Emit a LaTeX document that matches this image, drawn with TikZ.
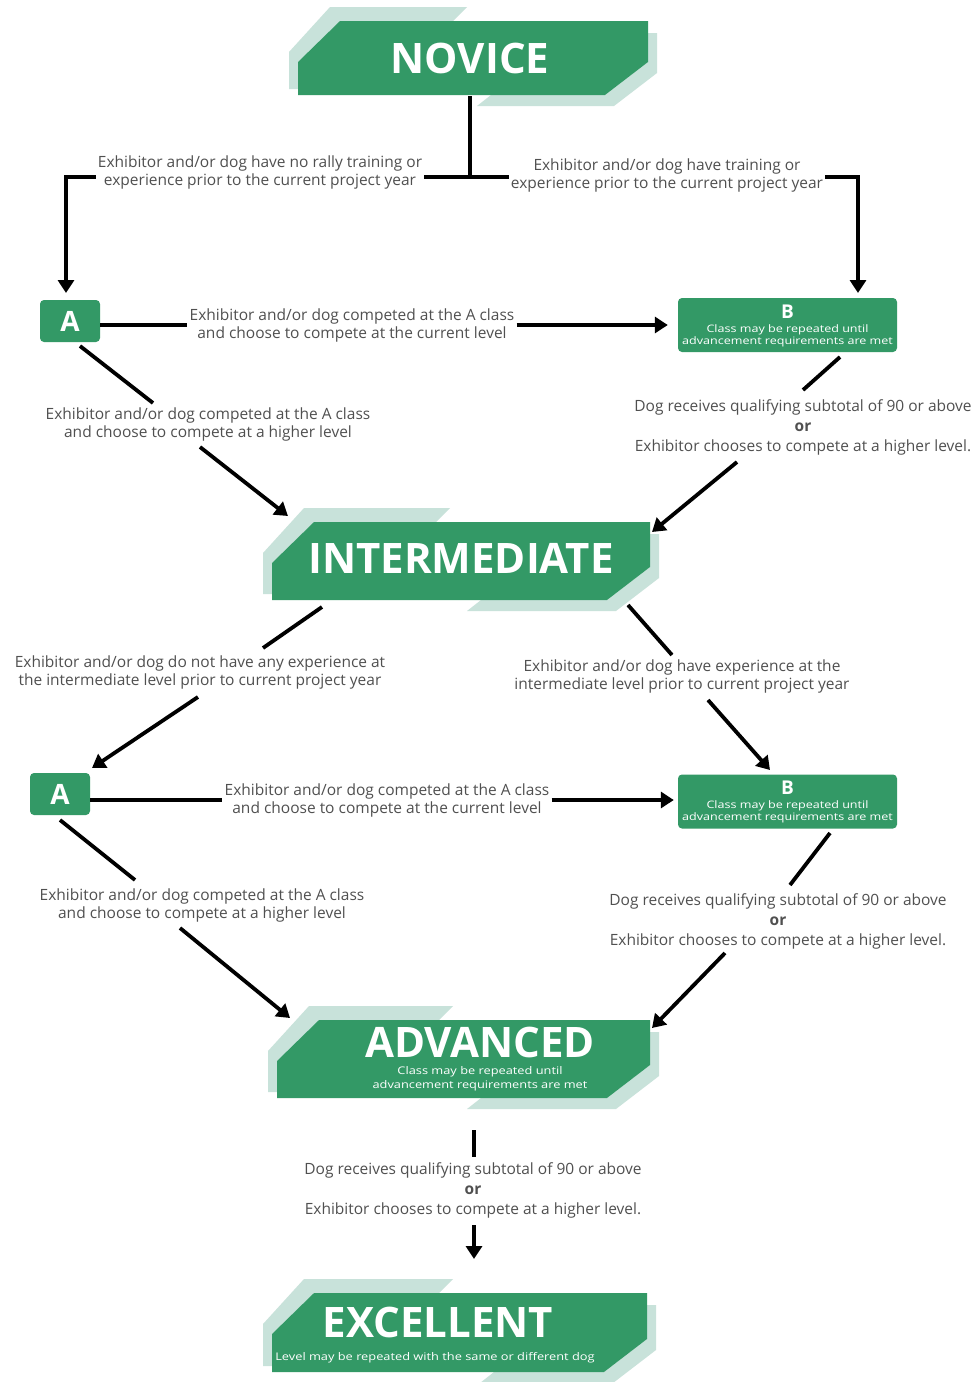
\documentclass[tikz,border=0pt]{standalone}
\usepackage{fontspec}
\setmainfont{Open Sans}
\newfontfamily\widefont[FakeStretch=1.22]{Open Sans}
\usetikzlibrary{arrows.meta}
\definecolor{lvgreen}{RGB}{51,153,102}
\definecolor{lvshade}{RGB}{200,226,218}
\definecolor{lblc}{RGB}{80,80,80}
\newcommand\lvbanner[6]{%
  \fill[lvshade] (#1+32,#3-14) -- (#5,#3-14) -- (#5-14,#3) -- (#1+42,#3) -- (#1,#3+41) -- (#1,#4-6) -- (#1-9,#4-6) -- (#1-9,#3+31) -- cycle;
  \fill[lvshade] (#6,#4+11) -- (#2+9-43,#4+11) -- (#2+9,#4+11-33) -- (#2+9,#3+12) -- (#2,#3+12) -- (#2,#4-33) -- (#2-43,#4) -- (#6+14,#4) -- cycle;
  \fill[lvgreen] (#1+42,#3) -- (#2,#3) -- (#2,#4-33) -- (#2-43,#4) -- (#1,#4) -- (#1,#3+41) -- cycle;}
\begin{document}
\begin{tikzpicture}[x=1pt,y=-1pt,
  conn/.style={line width=3.8pt, black},
  arr/.style={conn, -{Triangle[length=13pt,width=16pt]}},
  lbl/.style={text=lblc, font=\fontsize{15.5}{18}\selectfont, align=center, inner sep=2pt},
  lblor/.style={text=lblc, font=\fontsize{15.5}{20}\selectfont, align=center, inner sep=2pt},
  title/.style={text=white, font=\fontsize{42}{44}\selectfont\bfseries, inner sep=0pt},
  subt/.style={text=white, font=\widefont\fontsize{10.5}{14}\selectfont, align=center, inner sep=0pt},
  boxA/.style={fill=lvgreen, rounded corners=4pt, minimum width=60pt, minimum height=42pt, text=white, font=\fontsize{28}{30}\selectfont\bfseries, inner sep=0pt},
  boxB/.style={fill=lvgreen, rounded corners=4pt, minimum width=219pt, minimum height=54pt, inner sep=0pt},
  btitle/.style={text=white, font=\fontsize{19}{19}\selectfont\bfseries, inner sep=0pt},
  bsub/.style={text=white, font=\widefont\fontsize{10.3}{12}\selectfont, align=center, inner sep=0pt}]
\fill[white] (0,0) rectangle (980,1382);
\useasboundingbox (0,0) rectangle (980,1382);

% ---------- banners ----------
\lvbanner{298}{648}{21}{95}{467}{477}
\node[title] (N) at (470,58) {NOVICE};

\lvbanner{272}{650}{522}{600}{450}{467}
\node[title] (I) at (461,558) {INTERMEDIATE};

\lvbanner{277}{650}{1020}{1098}{453}{467}
\node[title] (Ad) at (480,1042) {ADVANCED};
\node[subt] (AdS) at (480,1079) {Class may be repeated until\\advancement requirements are met};

\lvbanner{272}{647}{1293}{1372}{453}{480}
\node[title] (E) at (438,1322) {EXCELLENT};
\node[subt] (ES) at (435,1358) {Level may be repeated with the same or different dog};

% ---------- class boxes ----------
\node[boxA] (A1) at (70,321) {A};
\node[boxB] (B1) at (787.5,325) {};
\node[btitle] at ([yshift=-14pt]B1.north) {B};
\node[bsub] at ([yshift=-11pt]B1.center) {Class may be repeated until\\advancement requirements are met};

\node[boxA] (A2) at (60,794) {A};
\node[boxB] (B2) at (787.5,801.5) {};
\node[btitle] at ([yshift=-13pt]B2.north) {B};
\node[bsub] at ([yshift=-10pt]B2.center) {Class may be repeated until\\advancement requirements are met};

% ---------- labels ----------
\node[lbl] (L1) at (260,172) {Exhibitor and/or dog have no rally training or\\experience prior to the current project year};
\node[lbl] (L2) at (667,175) {Exhibitor and/or dog have training or\\experience prior to the current project year};
\node[lbl] (LA1) at (352,325) {Exhibitor and/or dog competed at the A class\\and choose to compete at the current level};
\node[lbl] (LH1) at (208,424) {Exhibitor and/or dog competed at the A class\\and choose to compete at a higher level};
\node[lblor] (LB1) at (803,427) {Dog receives qualifying subtotal of 90 or above\\\textbf{or}\\Exhibitor chooses to compete at a higher level.};
\node[lbl] (LI1) at (200,672) {Exhibitor and/or dog do not have any experience at\\the intermediate level prior to current project year};
\node[lbl] (LI2) at (682,676) {Exhibitor and/or dog have experience at the\\intermediate level prior to current project year};
\node[lbl] (LA2) at (387,800) {Exhibitor and/or dog competed at the A class\\and choose to compete at the current level};
\node[lbl] (LH2) at (202,905) {Exhibitor and/or dog competed at the A class\\and choose to compete at a higher level};
\node[lblor] (LB2) at (778,921) {Dog receives qualifying subtotal of 90 or above\\\textbf{or}\\Exhibitor chooses to compete at a higher level.};
\node[lblor] (LAd) at (473,1190) {Dog receives qualifying subtotal of 90 or above\\\textbf{or}\\Exhibitor chooses to compete at a higher level.};

% ---------- connector points ----------
\coordinate (nbot) at (470,96);
\coordinate (j1) at (470,177);
\coordinate (a1top) at (66,293);
\coordinate (b1top) at (858,293);
\coordinate (h1s) at (80,346);  \coordinate (h1e) at (153,403);
\coordinate (h1r) at (200,447); \coordinate (h1t) at (288,516);
\coordinate (r1s) at (840,357); \coordinate (r1e) at (803,390);
\coordinate (r1r) at (737,462); \coordinate (r1t) at (652,532);
\coordinate (i1s) at (322,607); \coordinate (i1e) at (263,648);
\coordinate (i1r) at (198,697); \coordinate (i1t) at (92,768);
\coordinate (i2s) at (628,605); \coordinate (i2e) at (672,655);
\coordinate (i2r) at (708,700); \coordinate (i2t) at (770,770);
\coordinate (h2s) at (60,820);  \coordinate (h2e) at (135,880);
\coordinate (h2r) at (180,928); \coordinate (h2t) at (290,1018);
\coordinate (r2s) at (830,833); \coordinate (r2e) at (790,885);
\coordinate (r2r) at (725,953); \coordinate (r2t) at (652,1028);
\coordinate (ads) at (474,1130); \coordinate (ade) at (474,1157);
\coordinate (adr) at (474,1225); \coordinate (adt) at (474,1259);

% ---------- connectors ----------
\draw[conn] (nbot) -- (j1);
\draw[conn] (L1.east |- j1) -- (L2.west |- j1);
\draw[arr] (L1.west |- j1) -| (a1top);
\draw[arr] (L2.east |- j1) -| (b1top);

\draw[conn] (A1.east |- LA1) -- (LA1.west);
\draw[arr] (LA1.east) -- ([xshift=-10pt]B1.west |- LA1.east);
\draw[conn] (h1s) -- (h1e);
\draw[arr] (h1r) -- (h1t);
\draw[conn] (r1s) -- (r1e);
\draw[arr] (r1r) -- (r1t);

\draw[conn] (i1s) -- (i1e);
\draw[arr] (i1r) -- (i1t);
\draw[conn] (i2s) -- (i2e);
\draw[arr] (i2r) -- (i2t);

\draw[conn] (A2.east |- LA2) -- (LA2.west);
\draw[arr] (LA2.east) -- ([xshift=-4pt]B2.west |- LA2.east);
\draw[conn] (h2s) -- (h2e);
\draw[arr] (h2r) -- (h2t);
\draw[conn] (r2s) -- (r2e);
\draw[arr] (r2r) -- (r2t);

\draw[conn] (ads) -- (ade);
\draw[arr] (adr) -- (adt);
\end{tikzpicture}
\end{document}
